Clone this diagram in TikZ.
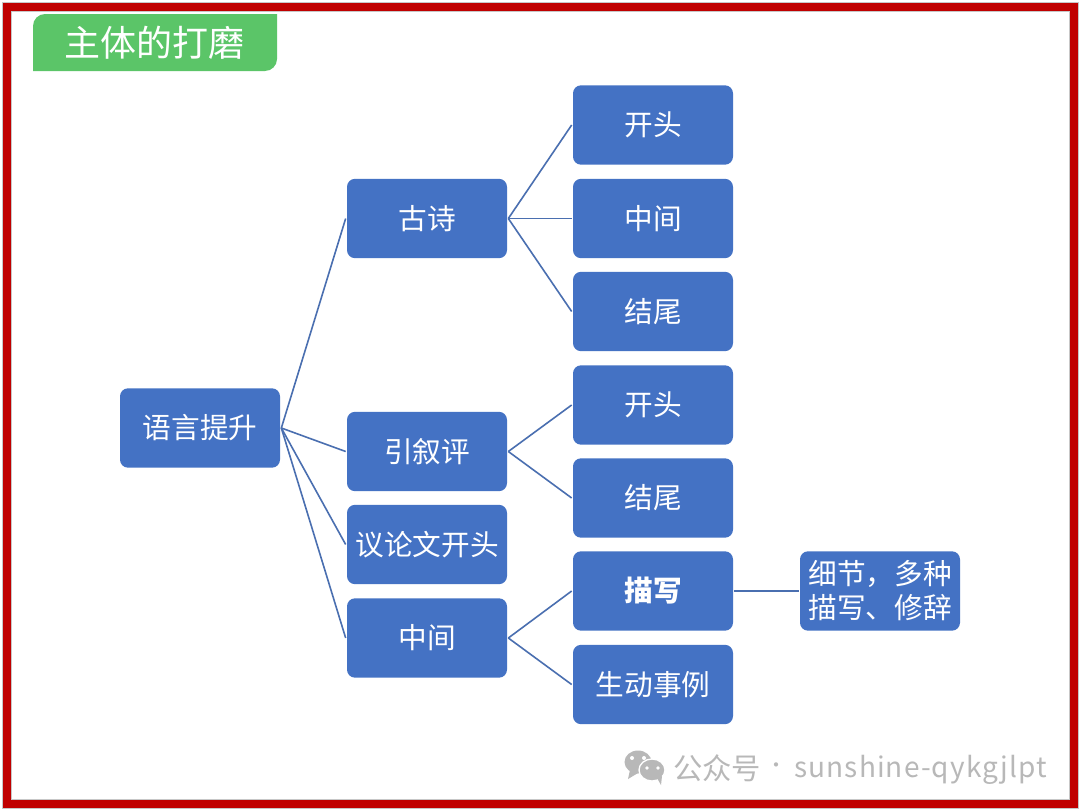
\documentclass[tikz,border=0pt]{standalone}
\usepackage{fontspec}
\setmainfont{Noto Sans CJK SC}
\newfontfamily\markfont[LetterSpace=4]{Noto Sans CJK SC}
\usepackage{tikz}
\usetikzlibrary{positioning}
\definecolor{FrameRed}{HTML}{C00000}
\definecolor{BoxBlue}{HTML}{4472C4}
\definecolor{LineBlue}{HTML}{4A6FB0}
\definecolor{TitleGreen}{HTML}{5BC568}
\definecolor{MarkGray}{HTML}{B8B8B8}
\tikzset{
    topicbox/.style={fill=BoxBlue, text=white, rounded corners=6pt, minimum width=120pt, minimum height=59.5pt, inner sep=0pt, outer sep=1pt, font=\fontsize{21.5}{25.5}\selectfont},
    link/.style={color=LineBlue, line width=1.2pt},
}
\begin{document}
\begin{tikzpicture}[x=0.75pt, y=-0.75pt]
    \useasboundingbox (0,0) rectangle (1080,810);
    \fill[white] (0,0) rectangle (1080,810);
    \draw[color=black!22, line width=7pt] (7,7) rectangle (1074,804);
    \draw[color=FrameRed, line width=6pt] (7,7) rectangle (1074,804);

    % title tab
    \fill[TitleGreen] (33,71) -- (33,26) arc (180:270:12) -- (277,14) -- (277,59) arc (0:90:12) -- cycle;
    \node[text=white, font=\fontsize{27}{32}\selectfont] (title) at (154.5,43) {主体的打磨};

    \node[topicbox] (root) at (200,428) {语言提升};

    \node[topicbox] (gushi) at (427,218.5) {古诗};
    \node[topicbox] (yinxu) at (427,451.5) {引叙评};
    \node[topicbox] (yilun) at (427,544.5) {议论文开头};
    \node[topicbox] (zhong) at (427,638) {中间};

    \node[topicbox] (gsopen) at (653,125) {开头};
    \node[topicbox] (gsmid) at (653,218.5) {中间};
    \node[topicbox] (gsend) at (653,311.5) {结尾};
    \node[topicbox] (yxopen) at (653,405) {开头};
    \node[topicbox] (yxend) at (653,498) {结尾};
    \node[topicbox, font=\fontsize{21.5}{25.5}\selectfont\bfseries] (miaoxie) at (653,591) {描写};
    \node[topicbox] (shili) at (653,684.5) {生动事例};
    \node[topicbox, align=center] (xijie) at (880,591) {细节，多种\\描写、修辞};

    \foreach \kid in {gushi, yinxu, yilun, zhong}
        \draw[link] (root.east) -- (\kid.west);
    \foreach \kid in {gsopen, gsmid, gsend}
        \draw[link] (gushi.east) -- (\kid.west);
    \foreach \kid in {yxopen, yxend}
        \draw[link] (yinxu.east) -- (\kid.west);
    \foreach \kid in {miaoxie, shili}
        \draw[link] (zhong.east) -- (\kid.west);
    \draw[link] (miaoxie.east) -- (xijie.west);

    % watermark
    \fill[MarkGray] (638,762) ellipse (13.5 and 11.5);
    \fill[MarkGray] (630,770) -- (628,779) -- (638,773) -- cycle;
    \fill[white] (632,758) circle (2) (644,758) circle (2);
    \fill[MarkGray, draw=white, line width=1pt] (652,770) ellipse (13 and 11);
    \fill[MarkGray] (657,778) -- (661,785) -- (662,776) -- cycle;
    \fill[white] (647,768) circle (1.8) (658,768) circle (1.8);
    \node[text=MarkGray, anchor=west, inner sep=0pt, font=\fontsize{22}{26}\selectfont] (mark) at (673,768) {公众号};
    \node[text=MarkGray, inner sep=0pt, font=\fontsize{15}{18}\selectfont] (dot) at (776,768) {·};
    \node[text=MarkGray, anchor=west, inner sep=0pt, font=\fontsize{21}{26}\markfont] (account) at (794,769.5) {sunshine-qykgjlpt};
\end{tikzpicture}
\end{document}
